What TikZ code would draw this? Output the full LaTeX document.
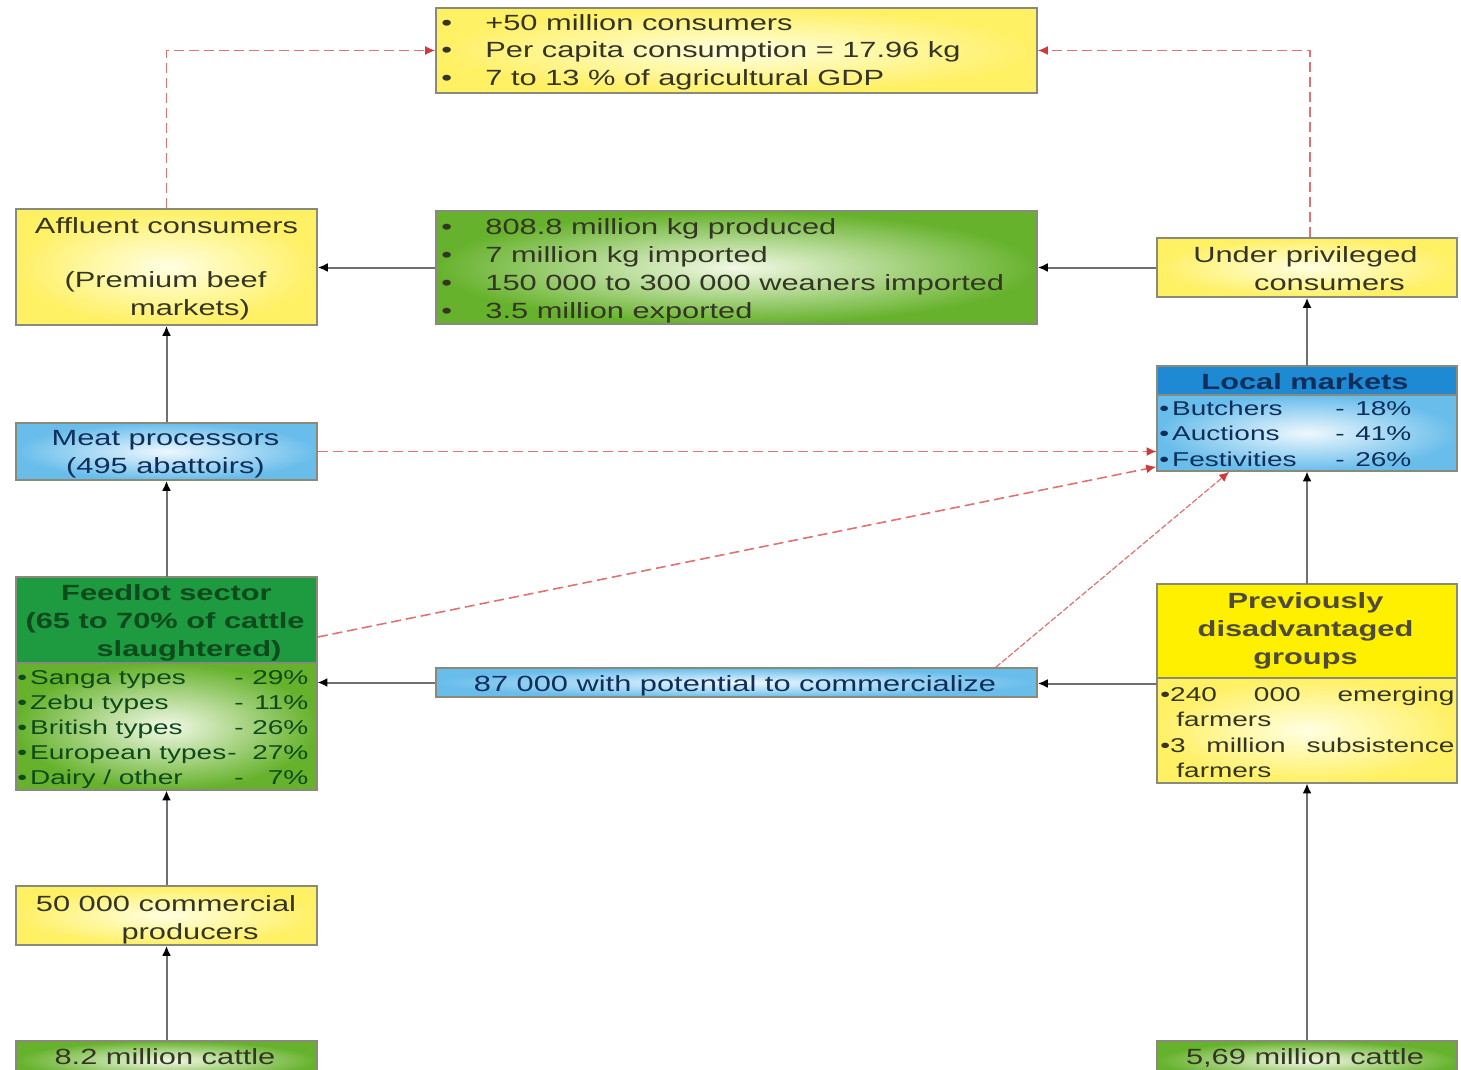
\documentclass[tikz,border=0pt]{standalone}
\usepackage{fontspec}
\setmainfont{Liberation Sans}[FakeStretch=1.4]
\usetikzlibrary{arrows.meta,fit,calc}
\definecolor{yelOut}{HTML}{FFF064}
\definecolor{yelIn}{HTML}{FFFFE2}
\definecolor{grnOut}{HTML}{66B22C}
\definecolor{grnIn}{HTML}{F2F9E6}
\definecolor{bluOut}{HTML}{68BDEB}
\definecolor{bluIn}{HTML}{EEF8FE}
\definecolor{feedHead}{HTML}{1E9A40}
\definecolor{lmHead}{HTML}{1F8AD4}
\definecolor{pdHead}{HTML}{FFF000}
\definecolor{boxgray}{HTML}{8A8A7A}
\definecolor{linegray}{HTML}{707070}
\definecolor{redc}{HTML}{E07272}
\definecolor{redtip}{HTML}{D03A3A}
\definecolor{txtc}{HTML}{353525}
\definecolor{txtg}{HTML}{0E4A1C}
\definecolor{txtb}{HTML}{0F2E5A}
\begin{document}
\begin{tikzpicture}[x=0.5pt,y=-0.5pt,
  bx/.style={draw=boxgray, line width=0.8pt, inner sep=0pt},
  ylw/.style={bx, inner color=yelIn, outer color=yelOut},
  grn/.style={bx, inner color=grnIn, outer color=grnOut},
  blu/.style={bx, inner color=bluIn, outer color=bluOut},
  tx/.style={inner sep=0pt, anchor=mid, yshift=-1.5pt, font=\fontsize{11}{13.75}\selectfont, text=txtc},
  txs/.style={inner sep=0pt, anchor=mid west, yshift=-1.2pt, font=\fontsize{10}{12.5}\selectfont, text=txtc},
  hd/.style={tx, font=\fontsize{11}{13.75}\selectfont\bfseries},
  arr/.style={draw=linegray, line width=1pt, -{Latex[length=5pt,width=4.5pt,color=black]}},
  rarr/.style={draw=redc, line width=0.8pt, dash pattern=on 5pt off 2.5pt, -{Latex[length=5pt,width=4.5pt,color=redtip]}}
]
\clip (0,0) rectangle (1461,1070);
\fill[white] (0,0) rectangle (1461,1070);

% boxes
\node[ylw, fit={(436,8)(1037,93)}] (top) {};
\node[ylw, fit={(16,209)(317,325)}] (aff) {};
\node[grn, fit={(436,211)(1037,324)}] (grnbox) {};
\node[ylw, fit={(1157,238)(1457,297)}] (up) {};
\node[bx, fill=lmHead, fit={(1157,366)(1457,395)}] (lmh) {};
\node[blu, fit={(1157,395)(1457,471)}] (lmb) {};
\node[inner sep=0pt, fit={(1157,366)(1457,471)}] (lm) {};
\node[blu, fit={(16,423)(317,480)}] (meat) {};
\node[bx, fill=feedHead, fit={(16,577)(317,663)}] (feedh) {};
\node[grn, fit={(16,663)(317,790)}] (feedb) {};
\node[inner sep=0pt, fit={(16,577)(317,790)}] (feed) {};
\node[blu, fit={(436,668)(1037,697)}] (kbox) {};
\node[bx, fill=pdHead, fit={(1157,584)(1457,678)}] (pdh) {};
\node[ylw, fit={(1157,678)(1457,783)}] (pdb) {};
\node[inner sep=0pt, fit={(1157,584)(1457,783)}] (pd) {};
\node[ylw, fit={(16,886)(317,945)}] (c50) {};
\node[grn, fit={(16,1041)(317,1080)}] (cat1) {};
\node[grn, fit={(1157,1041)(1457,1080)}] (cat2) {};

% connectors
\draw[rarr] (aff.north) |- (top.west);
\draw[rarr] ([xshift=1.5pt]up.north) |- (top.east);
\draw[arr] (grnbox.west) -- (grnbox.west -| aff.east);
\draw[arr] (up.west) -- (up.west -| grnbox.east);
\draw[arr] (lm.north) -- (up.south);
\draw[arr] (meat.north) -- (aff.south);
\draw[arr] (feed.north) -- (meat.south);
\draw[rarr] (meat.east) -- (meat.east -| lm.west);
\draw[rarr] ([yshift=-8.5pt]feedh.east) -- ([yshift=2.5pt]lmb.south west);
\draw[rarr, dash pattern=on 3pt off 1pt, line width=0.6pt] ([xshift=-21pt]kbox.north east) -- ([xshift=36.5pt]lmb.south west);
\draw[arr] (kbox.west) -- (kbox.west -| feed.east);
\draw[arr] (pd.west) -- (pd.west -| kbox.east);
\draw[arr] (pd.north) -- (lm.south);
\draw[arr] (c50.north) -- (feed.south);
\draw[arr] (cat1.north) -- (c50.south);
\draw[arr] (cat2.north) -- (pd.south);

% texts: top
\node[tx, anchor=mid west] (tp1) at (441,22) {\makebox[22pt][l]{•}+50 million consumers};
\node[tx, anchor=mid west] (tp2) at (441,49) {\makebox[22pt][l]{•}Per capita consumption = 17.96 kg};
\node[tx, anchor=mid west] (tp3) at (441,77) {\makebox[22pt][l]{•}7 to 13 \% of agricultural GDP};
% affluent
\node[tx] (af1) at (166.5,225) {Affluent consumers};
\node[tx] (af2) at (165.5,279) {(Premium beef};
\node[tx] (af3) at (190,307) {markets)};
% green box
\node[tx, anchor=mid west] (g1) at (441,226) {\makebox[22pt][l]{•}808.8 million kg produced};
\node[tx, anchor=mid west] (g2) at (441,254) {\makebox[22pt][l]{•}7 million kg imported};
\node[tx, anchor=mid west] (g3) at (441,282) {\makebox[22pt][l]{•}150 000 to 300 000 weaners imported};
\node[tx, anchor=mid west] (g4) at (441,310) {\makebox[22pt][l]{•}3.5 million exported};
% under privileged
\node[tx] (u1) at (1305.5,254) {Under privileged};
\node[tx] (u2) at (1329.5,282) {consumers};
% local markets
\node[hd, text=txtb] (lm0) at (1305,381) {Local markets};
\node[txs, text=txtb] (lm1) at (1159,408) {\makebox[88pt][l]{•\hspace{1.5pt}Butchers}\makebox[38pt][s]{-\hfill 18\%}};
\node[txs, text=txtb] (lm2) at (1159,433) {\makebox[88pt][l]{•\hspace{1.5pt}Auctions}\makebox[38pt][s]{-\hfill 41\%}};
\node[txs, text=txtb] (lm3) at (1159,459) {\makebox[88pt][l]{•\hspace{1.5pt}Festivities}\makebox[38pt][s]{-\hfill 26\%}};
% meat processors
\node[tx, text=txtb] (m1) at (165.5,437) {Meat processors};
\node[tx, text=txtb] (m2) at (165.5,465) {(495 abattoirs)};
% feedlot
\node[hd, text=txtg] (f1) at (166.5,592) {Feedlot sector};
\node[hd, text=txtg] (f2) at (165,620) {(65 to 70\% of cattle};
\node[hd, text=txtg] (f3) at (189,648) {slaughtered)};
\node[txs, text=txtg] (fb1) at (17,677) {\makebox[108.5pt][l]{•\hspace{1.5pt}Sanga types}\makebox[37pt][s]{-\hfill 29\%}};
\node[txs, text=txtg] (fb2) at (17,702) {\makebox[108.5pt][l]{•\hspace{1.5pt}Zebu types}\makebox[37pt][s]{-\hfill 11\%}};
\node[txs, text=txtg] (fb3) at (17,727) {\makebox[108.5pt][l]{•\hspace{1.5pt}British types}\makebox[37pt][s]{-\hfill 26\%}};
\node[txs, text=txtg] (fb4) at (17,752) {\makebox[105pt][l]{•\hspace{1.5pt}European types}\makebox[40.5pt][s]{-\hfill 27\%}};
\node[txs, text=txtg] (fb5) at (17,777) {\makebox[108.5pt][l]{•\hspace{1.5pt}Dairy / other}\makebox[37pt][s]{-\hfill 7\%}};
% 87 000
\node[tx, text=txtb] (k1) at (735,683) {87 000 with potential to commercialize};
% previously disadvantaged
\node[hd, text=black!80!yellow] (p1) at (1305.5,600) {Previously};
\node[hd, text=black!80!yellow] (p2) at (1305.5,628) {disadvantaged};
\node[hd, text=black!80!yellow] (p3) at (1305.5,656) {groups};
\node[txs] (pb1) at (1160,694) {\makebox[147pt][s]{•240\hfill 000\hfill emerging}};
\node[txs] (pb2) at (1176,719) {farmers};
\node[txs] (pb3) at (1160,745) {\makebox[147pt][s]{•3\hfill million\hfill subsistence}};
\node[txs] (pb4) at (1176,770) {farmers};
% 50 000
\node[tx] (c1) at (166,903) {50 000 commercial};
\node[tx] (c2) at (190,931) {producers};
% cattle
\node[tx] (ct1) at (165,1056) {8.2 million cattle};
\node[tx] (ct2) at (1305,1056) {5,69 million cattle};
\end{tikzpicture}
\end{document}
